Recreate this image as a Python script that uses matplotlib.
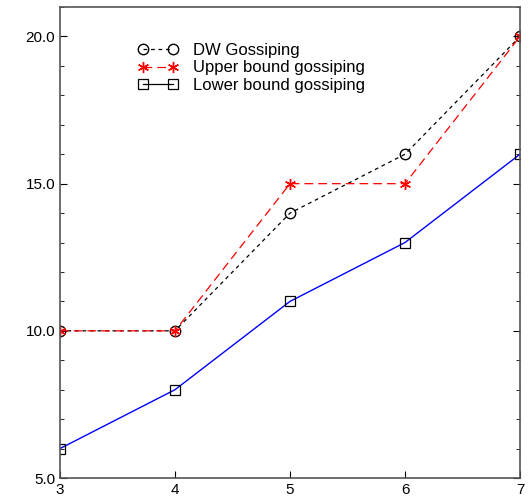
import matplotlib
matplotlib.use("Agg")
import matplotlib.pyplot as plt
from matplotlib.lines import Line2D
from matplotlib.ticker import MultipleLocator

plt.rcParams['font.family'] = ['Liberation Sans', 'DejaVu Sans']

x = [3, 4, 5, 6, 7]
dw = [10, 10, 14, 16, 20]
upper = [10, 10, 15, 15, 20]
lower = [6, 8, 11, 13, 16]

dw_style = dict(color='k', ls='--', marker='o', mfc='none', mec='k', ms=7.5, lw=0.9, dashes=(3, 3))
up_style = dict(color='red', ls='--', marker=(6, 2, 0), mec='red', ms=8, mew=1.0, lw=0.9, dashes=(7, 4))

fig = plt.figure(figsize=(5.29, 5.01), dpi=100)
ax = fig.add_axes([0.1134, 0.0459, 0.8696, 0.94])

ax.plot(x, dw, **dw_style)
ax.plot(x, upper, **up_style)
ax.plot(x, lower, color='blue', ls='-', marker='s', mfc='none', mec='k', ms=7, mew=0.9, lw=1.0)

ax.set_xlim(3, 7)
ax.set_ylim(5, 21)
ax.set_xticks(x)
ax.set_yticks([5, 10, 15, 20])
ax.set_yticklabels(['5.0', '10.0', '15.0', '20.0'])
ax.yaxis.set_minor_locator(MultipleLocator(1))
ax.tick_params(which='both', direction='in', right=True, top=False, labelsize=11)
ax.tick_params(which='major', length=5)
ax.tick_params(which='minor', length=3)
for s in ax.spines.values():
    s.set_color('#555555')
    s.set_linewidth(1.2)

handles = [
    Line2D([], [], **dw_style),
    Line2D([], [], **up_style),
    Line2D([], [], color='k', ls='-', marker='s', mfc='none', ms=7, mew=0.9, lw=0.9),
]
ax.legend(handles, ['DW Gossiping', 'Upper bound gossiping', 'Lower bound gossiping'],
          loc='upper left', bbox_to_anchor=(0.17, 0.924), frameon=False, fontsize=12,
          numpoints=2, handlelength=2.4, handletextpad=0.9, labelspacing=0.15, borderpad=0,
          borderaxespad=0)

fig.savefig('out.png', dpi=100)
